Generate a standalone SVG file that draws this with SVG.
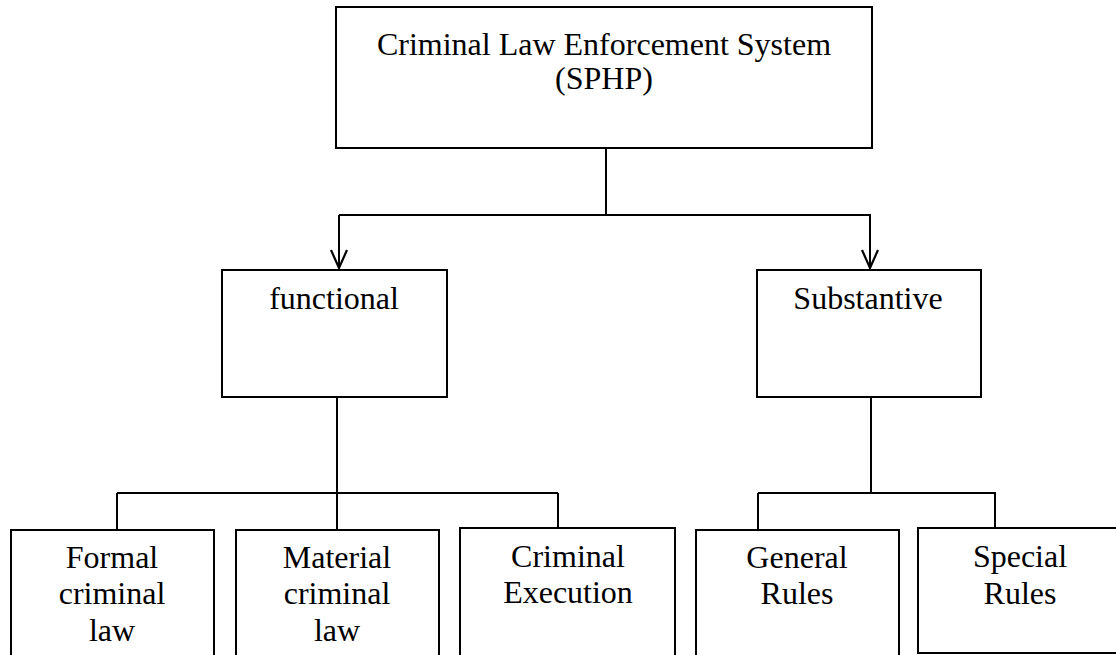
<svg xmlns="http://www.w3.org/2000/svg" width="1116" height="655" viewBox="0 0 1116 655">
<style>
.box{fill:#fff;stroke:#000;stroke-width:2}
.ln{fill:none;stroke:#000;stroke-width:2}
text{font-family:"Liberation Serif","DejaVu Serif",serif;font-size:32px;fill:#000;text-anchor:middle}
</style>
<defs>
<marker id="arr" markerUnits="userSpaceOnUse" markerWidth="20" markerHeight="22" refX="10" refY="20" orient="0" viewBox="0 0 20 22">
<path d="M2 2 L10 20 L18 2" fill="none" stroke="#000" stroke-width="2.2"/>
</marker>
</defs>
<g id="connectors">
<path class="ln" d="M606 148 V215"/>
<path class="ln" d="M339 215 H871"/>
<path class="ln" d="M339 215 V268" marker-end="url(#arr)"/>
<path class="ln" d="M870 215 V268" marker-end="url(#arr)"/>
<path class="ln" d="M337 397 V530"/>
<path class="ln" d="M117 493 H558"/>
<path class="ln" d="M117 493 V530"/>
<path class="ln" d="M558 493 V528"/>
<path class="ln" d="M871 397 V493"/>
<path class="ln" d="M758 493 H996"/>
<path class="ln" d="M758 493 V530"/>
<path class="ln" d="M995 493 V528"/>
</g>
<g id="root">
<rect class="box" x="336" y="7" width="536" height="141"/>
<text x="604" y="55">Criminal Law Enforcement System</text>
<text x="604" y="89">(SPHP)</text>
</g>
<g id="functional">
<rect class="box" x="222" y="270" width="225" height="127"/>
<text x="334" y="309">functional</text>
</g>
<g id="substantive">
<rect class="box" x="757" y="270" width="224" height="127"/>
<text x="868" y="309">Substantive</text>
</g>
<g id="formal">
<rect class="box" x="11" y="530" width="203" height="140"/>
<text x="112" y="568">Formal</text>
<text x="112" y="604">criminal</text>
<text x="112" y="641">law</text>
</g>
<g id="material">
<rect class="box" x="236" y="530" width="203" height="140"/>
<text x="337" y="568">Material</text>
<text x="337" y="604">criminal</text>
<text x="337" y="641">law</text>
</g>
<g id="execution">
<rect class="box" x="460" y="528" width="215" height="140"/>
<text x="568" y="567">Criminal</text>
<text x="568" y="603">Execution</text>
</g>
<g id="general">
<rect class="box" x="696" y="530" width="203" height="140"/>
<text x="797" y="568">General</text>
<text x="797" y="604">Rules</text>
</g>
<g id="special">
<rect class="box" x="918" y="528" width="210" height="125"/>
<text x="1020" y="567">Special</text>
<text x="1020" y="604">Rules</text>
</g>
</svg>
